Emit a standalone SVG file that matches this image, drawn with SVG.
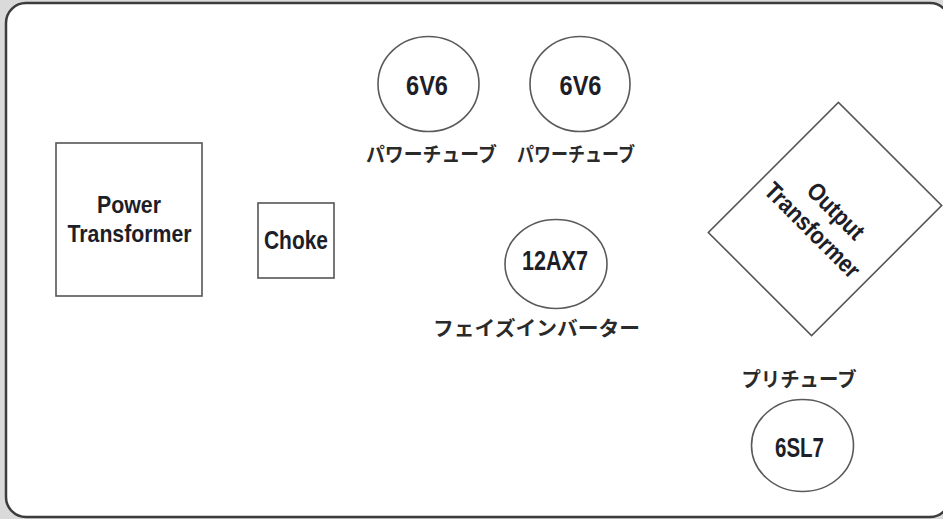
<svg xmlns="http://www.w3.org/2000/svg" width="943" height="519" viewBox="0 0 943 519">
  <style>
    .frame { fill: #ffffff; stroke: #3c3c3c; stroke-width: 2.5; }
    .box { fill: #ffffff; stroke: #555555; stroke-width: 1.6; }
    .tube { fill: #ffffff; stroke: #5a5a5a; stroke-width: 1.6; }
    .lbl { font-family: "Liberation Sans", Arial, sans-serif; font-weight: bold; fill: #1e1e28; text-anchor: middle; }
    .jp { font-family: "Noto Sans CJK JP", "Noto Sans CJK SC", sans-serif; font-weight: bold; fill: #2a2a2a; text-anchor: middle; font-size: 20px; }
  </style>
  <rect x="0" y="0" width="943" height="519" fill="#dadada"/>
  <rect class="frame" x="6" y="3" width="944" height="514" rx="20" ry="20"/>

  <g id="power-transformer">
    <rect class="box" x="56" y="143" width="146" height="153"/>
    <text class="lbl" x="129" y="213" font-size="24.5" textLength="64" lengthAdjust="spacingAndGlyphs">Power</text>
    <text class="lbl" x="129.5" y="242" font-size="24.5" textLength="124" lengthAdjust="spacingAndGlyphs">Transformer</text>
  </g>

  <g id="choke">
    <rect class="box" x="258" y="203" width="76" height="75"/>
    <text class="lbl" x="296" y="249" font-size="25.5" textLength="64" lengthAdjust="spacingAndGlyphs">Choke</text>
  </g>

  <g id="power-tube-1">
    <ellipse class="tube" cx="428.5" cy="84" rx="50.5" ry="47.5"/>
    <text class="lbl" x="427" y="95" font-size="27" textLength="42" lengthAdjust="spacingAndGlyphs">6V6</text>
    <text class="jp" x="431.5" y="162" textLength="131" lengthAdjust="spacingAndGlyphs">パワーチューブ</text>
  </g>

  <g id="power-tube-2">
    <ellipse class="tube" cx="580" cy="84" rx="50" ry="47.5"/>
    <text class="lbl" x="580.5" y="95" font-size="27" textLength="42" lengthAdjust="spacingAndGlyphs">6V6</text>
    <text class="jp" x="576" y="162" textLength="118" lengthAdjust="spacingAndGlyphs">パワーチューブ</text>
  </g>

  <g id="phase-inverter">
    <ellipse class="tube" cx="556" cy="264" rx="51" ry="44.5"/>
    <text class="lbl" x="555" y="270" font-size="27" textLength="66" lengthAdjust="spacingAndGlyphs">12AX7</text>
    <text class="jp" x="536.5" y="336" textLength="207" lengthAdjust="spacingAndGlyphs">フェイズインバーター</text>
  </g>

  <g id="output-transformer">
    <rect class="box" x="752" y="127" width="146" height="184" transform="rotate(45 825 219)"/>
    <g transform="translate(825 219) rotate(45)">
      <text class="lbl" x="2" y="-5" font-size="24.5" textLength="70" lengthAdjust="spacingAndGlyphs">Output</text>
      <text class="lbl" x="-1" y="25" font-size="24.5" textLength="124" lengthAdjust="spacingAndGlyphs">Transformer</text>
    </g>
  </g>

  <g id="preamp-tube">
    <text class="jp" x="799" y="387" textLength="115" lengthAdjust="spacingAndGlyphs">プリチューブ</text>
    <ellipse class="tube" cx="802.5" cy="445.5" rx="51" ry="46"/>
    <text class="lbl" x="799.5" y="457" font-size="27" textLength="49" lengthAdjust="spacingAndGlyphs">6SL7</text>
  </g>

  <g id="connectors"></g>
</svg>
